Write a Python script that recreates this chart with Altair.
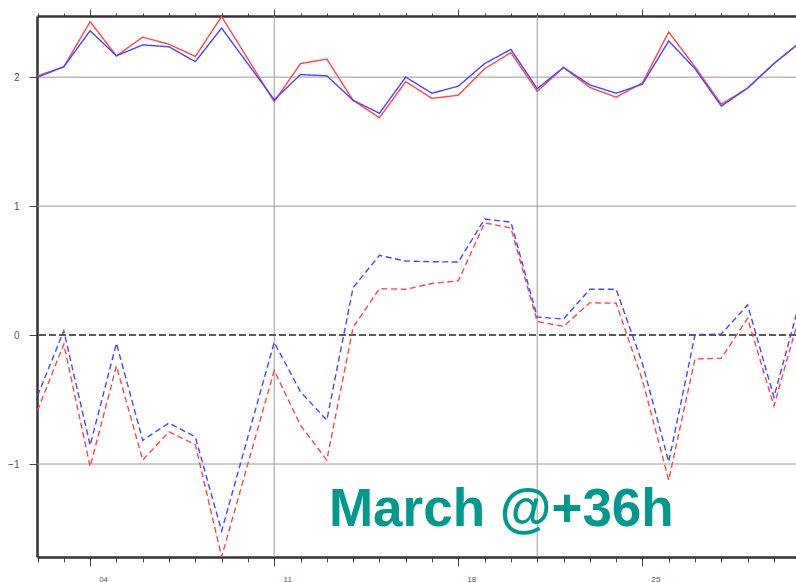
import altair as alt
import pandas as pd

# Days of March with a verification value (no value on the 10th)
days = [2, 3, 4, 5, 6, 7, 8, 9, 11, 12, 13, 14, 15, 16, 17, 18, 19, 20,
        21, 22, 23, 24, 25, 26, 27, 28, 29, 30, 31]

# Upper pair of curves (solid)
red_solid = [2.01, 2.08, 2.43, 2.165, 2.31, 2.255, 2.16, 2.47, 1.81, 2.105,
             2.14, 1.82, 1.685, 1.965, 1.835, 1.86, 2.065, 2.19, 1.89, 2.075,
             1.92, 1.845, 1.955, 2.35, 2.08, 1.79, 1.915, 2.105, 2.27]
blue_solid = [2.0, 2.08, 2.36, 2.165, 2.25, 2.235, 2.12, 2.38, 1.825, 2.02,
              2.01, 1.82, 1.72, 2.0, 1.875, 1.93, 2.105, 2.215, 1.91, 2.075,
              1.94, 1.875, 1.945, 2.28, 2.065, 1.775, 1.915, 2.105, 2.27]

# Lower pair of curves (dashed)
red_dashed = [-0.585, -0.07, -1.02, -0.24, -0.97, -0.75, -0.85, -1.72, -0.275,
              -0.70, -0.97, 0.06, 0.36, 0.355, 0.40, 0.42, 0.87, 0.83, 0.105,
              0.067, 0.25, 0.247, -0.35, -1.125, -0.185, -0.18, 0.13, -0.55, 0.17]
blue_dashed = [-0.47, 0.033, -0.855, -0.064, -0.816, -0.682, -0.79, -1.52, -0.057,
               -0.44, -0.66, 0.368, 0.618, 0.574, 0.569, 0.566, 0.90, 0.875, 0.14,
               0.124, 0.355, 0.355, -0.22, -0.983, 0.003, 0.008, 0.234, -0.481, 0.27]

major_days = [4, 11, 18, 25]
vgrid_days = [11, 21]
hgrid_values = [-1, 1, 2]
y_ticks = [-1, 0, 1, 2]
title_text = "March @+36h"

rows = []
for series, style, vals in [
    ("red", "solid", red_solid),
    ("blue", "solid", blue_solid),
    ("red", "dashed", red_dashed),
    ("blue", "dashed", blue_dashed),
]:
    for d, v in zip(days, vals):
        rows.append({"day": d, "value": v, "series": series, "style": style})
df = pd.DataFrame(rows)

x_scale = alt.Scale(domain=[1.98, 30.84], nice=False, zero=False)
y_scale = alt.Scale(domain=[-1.721, 2.474], nice=False, zero=False)

major_list = ", ".join(str(d) for d in major_days)
major_test = f"indexof([{major_list}], datum.value) >= 0"
all_days = list(range(2, 31))

axis_common = dict(
    values=all_days,
    grid=False,
    domainColor="#333333",
    domainWidth=2.5,
    tickColor="#444444",
    tickWidth=1,
)

bottom_axis = alt.Axis(
    orient="bottom",
    title=None,
    tickSize={"condition": {"test": major_test, "value": 9}, "value": 5},
    labelExpr=f"{major_test} ? (datum.value < 10 ? '0' + datum.value : '' + datum.value) : ''",
    labelOffset=13,
    labelPadding=9,
    labelFont="Liberation Sans",
    labelFontSize=8,
    labelColor="#555555",
    labelBaseline="top",
    labelFlush=False,
    labelOverlap=False,
    **axis_common,
)

top_axis = alt.Axis(
    orient="top",
    title=None,
    labels=False,
    tickSize={"condition": {"test": major_test, "value": 7}, "value": 3},
    **axis_common,
)

left_axis = alt.Axis(
    orient="left",
    title=None,
    values=y_ticks,
    grid=False,
    tickSize=8,
    tickColor="#444444",
    domainColor="#333333",
    domainWidth=2.5,
    labelPadding=10,
    labelFont="Liberation Sans",
    labelFontSize=10,
    labelColor="#555555",
    format="d",
)

# Horizontal gridlines
hgrid = alt.Chart(pd.DataFrame({"v": hgrid_values})).mark_rule(
    color="#9a9a9a", strokeWidth=1
).encode(y=alt.Y("v:Q", scale=y_scale, axis=left_axis))

# Vertical gridlines
vgrid = alt.Chart(pd.DataFrame({"d": vgrid_days})).mark_rule(
    color="#9a9a9a", strokeWidth=1
).encode(x=alt.X("d:Q", scale=x_scale, axis=top_axis))

# Dashed zero line
zero = alt.Chart(pd.DataFrame({"v": [0]})).mark_rule(
    color="#5a5a5a", strokeWidth=2, strokeDash=[7, 3]
).encode(y=alt.Y("v:Q", scale=y_scale, axis=left_axis))

lines = alt.Chart(df).mark_line(strokeWidth=1.4, clip=True).encode(
    x=alt.X("day:Q", scale=x_scale, axis=bottom_axis),
    y=alt.Y("value:Q", scale=y_scale, axis=left_axis),
    color=alt.Color("series:N",
                    scale=alt.Scale(domain=["red", "blue"],
                                    range=["#ff4646", "#4646ff"]),
                    legend=None),
    strokeDash=alt.StrokeDash("style:N",
                              scale=alt.Scale(domain=["solid", "dashed"],
                                              range=[[1, 0], [6, 3.5]]),
                              legend=None),
    order=alt.Order("series:N", sort="descending"),
)

label = alt.Chart(pd.DataFrame({"d": [13.08], "v": [-1.483], "t": [title_text]})).mark_text(
    font="Liberation Sans", fontWeight="bold", fontSize=53, color="#00998f",
    align="left", baseline="alphabetic",
).encode(
    x=alt.X("d:Q", scale=x_scale, axis=None),
    y=alt.Y("v:Q", scale=y_scale, axis=left_axis),
    text="t:N",
)

chart = alt.layer(hgrid, vgrid, zero, lines, label).resolve_axis(
    x="independent"
).properties(
    width=759,
    height=541,
    autosize=alt.AutoSizeParams(type="none"),
    padding={"left": 37, "top": 16, "right": 0, "bottom": 25},
    background="white",
).configure_view(stroke=None)

chart.save("out.html", embed_options={"renderer": "svg", "actions": False})
